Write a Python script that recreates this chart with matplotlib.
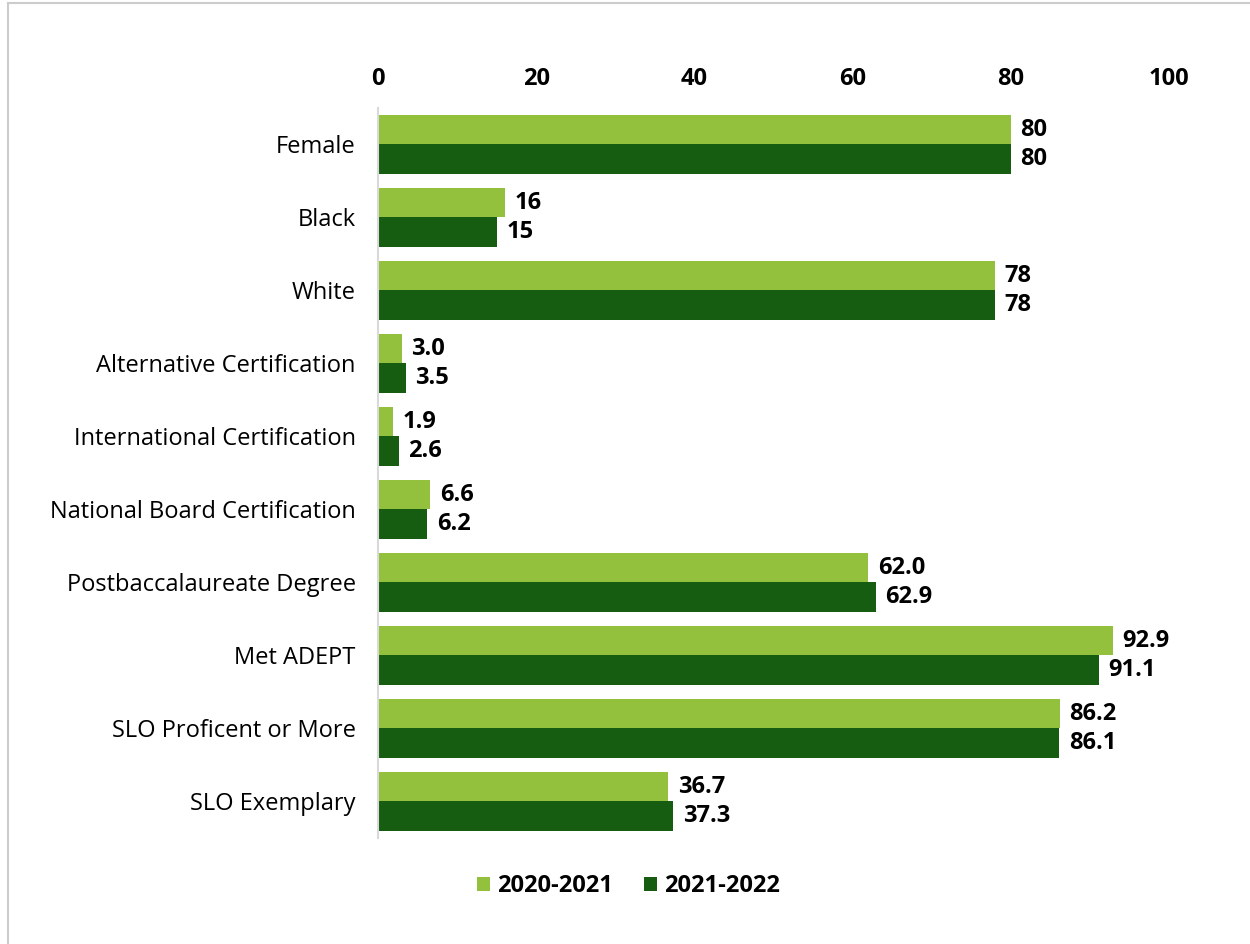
import matplotlib.pyplot as plt
from matplotlib.lines import Line2D
import numpy as np

# teacher characteristics, percent of teachers
categories = [
    "Female",
    "Black",
    "White",
    "Alternative Certification",
    "International Certification",
    "National Board Certification",
    "Postbaccalaureate Degree",
    "Met ADEPT",
    "SLO Proficent or More",
    "SLO Exemplary",
]
labels_2021 = ["80", "16", "78", "3.0", "1.9", "6.6", "62.0", "92.9", "86.2", "36.7"]
labels_2022 = ["80", "15", "78", "3.5", "2.6", "6.2", "62.9", "91.1", "86.1", "37.3"]
years = ["2020-2021", "2021-2022"]

vals_2021 = [float(v) for v in labels_2021]
vals_2022 = [float(v) for v in labels_2022]

light_green = "#93c13e"
dark_green = "#165d12"

plt.rcParams['font.family'] = ['Open Sans', 'DejaVu Sans']

fig = plt.figure(figsize=(12.5, 9.44), dpi=100)
ax = fig.add_axes([0.3024, 0.1123, 0.6328, 0.7733])

y = np.arange(len(categories))
h = 0.4
ax.barh(y - h / 2, vals_2021, height=h, color=light_green, label=years[0])
ax.barh(y + h / 2, vals_2022, height=h, color=dark_green, label=years[1])

for yi, v, s in zip(y, vals_2021, labels_2021):
    ax.annotate(s, (v, yi - h / 2), xytext=(7, 0), textcoords="offset points",
                va="center", ha="left", fontsize=17, fontweight="bold")
for yi, v, s in zip(y, vals_2022, labels_2022):
    ax.annotate(s, (v, yi + h / 2), xytext=(7, 0), textcoords="offset points",
                va="center", ha="left", fontsize=17, fontweight="bold")

ax.set_xlim(0, 100)
ax.set_ylim(len(categories) - 0.5, -0.5)
ax.set_xticks([0, 20, 40, 60, 80, 100])
ax.xaxis.tick_top()
ax.tick_params(axis="x", length=0, pad=12, labelsize=17)
for t in ax.get_xticklabels():
    t.set_fontweight("bold")
ax.set_yticks(y)
ax.set_yticklabels(categories, fontsize=17)
ax.tick_params(axis="y", length=0, pad=16)

for side in ["top", "right", "bottom"]:
    ax.spines[side].set_visible(False)
ax.spines["left"].set_color("#d9d9d9")
ax.spines["left"].set_linewidth(1.5)

leg = fig.legend(loc="center", bbox_to_anchor=(0.503, 0.061), ncol=2, frameon=False,
                 handlelength=0.55, handleheight=0.55, handletextpad=0.3, columnspacing=1.3,
                 prop={"weight": "bold", "size": 17})

# thin frame lines along the top and left edges
fig.add_artist(Line2D([8 / 1250, 1], [1 - 3 / 944, 1 - 3 / 944], color="#cccccc", lw=1.5))
fig.add_artist(Line2D([8 / 1250, 8 / 1250], [0, 1 - 3 / 944], color="#cccccc", lw=1.5))

fig.savefig("out.png", dpi=100)
